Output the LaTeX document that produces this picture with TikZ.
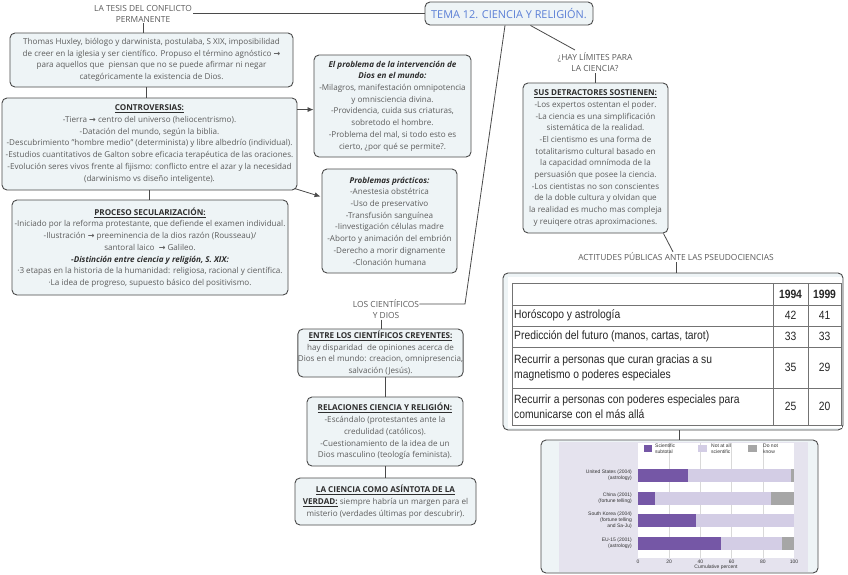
\documentclass[tikz,border=0pt]{standalone}
\usepackage{fontspec}
\setmainfont{Open Sans}
\newfontfamily\symf{DejaVu Sans}
\newfontfamily\tabf[FakeStretch=0.86]{Liberation Sans}
\newfontfamily\chartf{Liberation Sans}
\usetikzlibrary{calc,arrows.meta}
\definecolor{boxfill}{HTML}{EEF4F6}
\definecolor{boxdraw}{HTML}{4A4A4A}
\definecolor{txt}{HTML}{5C5C5C}
\definecolor{hd}{HTML}{2E2E2E}
\definecolor{titleblue}{HTML}{5B7FD6}
\definecolor{sci}{HTML}{7557A6}
\definecolor{notsci}{HTML}{D3CDE5}
\definecolor{dkn}{HTML}{A6A6A6}
\definecolor{chartbg}{HTML}{E5E3EE}
\newcommand{\myarrow}{{\symf\fontsize{8}{6}\selectfont\bfseries →}}
\newcommand{\myhdr}[1]{{\color{hd}\underline{\textbf{#1}}}}
\newcommand{\mybi}[1]{{\color{hd}\textbf{\textit{#1}}}}
\begin{document}
\begin{tikzpicture}[x=1pt,y=-1pt,
  box/.style={draw=boxdraw, line width=0.9pt, fill=boxfill, rounded corners=5pt, align=center, inner sep=0pt, text=txt, font=\fontsize{8.1}{11.7}\selectfont},
  lbl/.style={align=center, inner sep=1pt, text=txt, font=\fontsize{8.4}{11}\selectfont},
  conn/.style={draw=boxdraw, line width=0.8pt},
  arr/.style={conn, -{Latex[length=6pt,width=5pt]}},
  tcell/.style={inner sep=0pt, text=black!85, font=\tabf\fontsize{12}{15}\selectfont, align=left},
  tnum/.style={inner sep=0pt, text=black!85, font=\tabf\fontsize{12}{15}\selectfont},
  clab/.style={inner sep=0pt, text=black!80, font=\chartf\fontsize{5}{6}\selectfont}
]
\fill[white] (0,0) rectangle (848,574);
\useasboundingbox (0,0) rectangle (848,574);

% title
\node[box, minimum width=168pt, minimum height=23pt, text=titleblue, font=\fontsize{10.9}{12}\selectfont] (title) at (509,13.5) {TEMA 12. CIENCIA Y RELIGIÓN.};

% left column
\node[lbl] (tesis) at (143,13.5) {LA TESIS DEL CONFLICTO\\PERMANENTE};
\node[box, minimum width=283pt, minimum height=54pt] (hux) at (151.5,60) {Thomas Huxley, biólogo y darwinista, postulaba, S XIX, imposibilidad\\de creer en la iglesia y ser científico. Propuso el término agnóstico \myarrow\\para aquellos que\ \ piensan que no se puede afirmar ni negar\\categóricamente la existencia de Dios.};
\node[box, minimum width=295pt, minimum height=92pt] (contr) at (149.5,144) {\myhdr{CONTROVERSIAS:}\\-Tierra \myarrow\ centro del universo (heliocentrismo).\\-Datación del mundo, según la biblia.\\-Descubrimiento "hombre medio" (determinista) y libre albedrío (individual).\\-Estudios cuantitativos de Galton sobre eficacia terapéutica de las oraciones.\\-Evolución seres vivos frente al fijismo: conflicto entre el azar y la necesidad\\(darwinismo vs diseño inteligente).};
\node[box, minimum width=276pt, minimum height=95pt] (proc) at (150,247.5) {\myhdr{PROCESO SECULARIZACIÓN:}\\-Iniciado por la reforma protestante, que defiende el examen individual.\\-Ilustración \myarrow\ preeminencia de la dios razón (Rousseau)/\\santoral laico\ \ \myarrow\ Galileo.\\\mybi{-Distinción entre ciencia y religión, S. XIX:}\\·3 etapas en la historia de la humanidad: religiosa, racional y científica.\\·La idea de progreso, supuesto básico del positivismo.};

% middle column
\node[box, minimum width=157pt, minimum height=102pt] (prob) at (392.5,106) {\mybi{El problema de la intervención de}\\\mybi{Dios en el mundo:}\\-Milagros, manifestación omnipotencia\\y omnisciencia divina.\\-Providencia, cuida sus criaturas,\\sobretodo el hombre.\\-Problema del mal, si todo esto es\\cierto, ¿por qué se permite?.};
\node[box, minimum width=135pt, minimum height=104pt] (prac) at (389.5,221) {\mybi{Problemas prácticos:}\\-Anestesia obstétrica\\-Uso de preservativo\\-Transfusión sanguínea\\-Iinvestigación células madre\\-Aborto y animación del embrión\\-Derecho a morir dignamente\\-Clonación humana};
\node[lbl] (cient) at (386,309) {LOS CIENTÍFICOS\\Y DIOS};
\node[box, minimum width=165pt, minimum height=48pt] (entre) at (380.5,353) {\myhdr{ENTRE LOS CIENTÍFICOS CREYENTES:}\\hay disparidad\ \ de opiniones acerca de\\Dios en el mundo: creacion, omnipresencia,\\salvación (Jesús).};
\node[box, minimum width=156pt, minimum height=69pt] (rel) at (385,431.5) {\myhdr{RELACIONES CIENCIA Y RELIGIÓN:}\\-Escándalo (protestantes ante la\\credulidad (católicos).\\-Cuestionamiento de la idea de un\\Dios masculino (teología feminista).};
\node[box, minimum width=181pt, minimum height=47pt] (asin) at (385.5,501.5) {\myhdr{LA CIENCIA COMO ASÍNTOTA DE LA}\\\myhdr{VERDAD:} siempre habría un margen para el\\misterio (verdades últimas por descubrir).};

% right column
\node[lbl] (hay) at (595,62.5) {¿HAY LÍMITES PARA\\LA CIENCIA?};
\node[box, minimum width=145pt, minimum height=150pt] (sus) at (595.5,158) {\myhdr{SUS DETRACTORES SOSTIENEN:}\\-Los expertos ostentan el poder.\\-La ciencia es una simplificación\\sistemática de la realidad.\\-El cientismo es una forma de\\totalitarismo cultural basado en\\la capacidad omnímoda de la\\persuasión que posee la ciencia.\\-Los cientistas no son conscientes\\de la doble cultura y olvidan que\\la realidad es mucho mas compleja\\y reuiqere otras aproximaciones.};
\node[lbl] (act) at (676,257) {ACTITUDES PÚBLICAS ANTE LAS PSEUDOCIENCIAS};

% table
\node[box, minimum width=340pt, minimum height=157pt] (tab) at (673,351.5) {};
\fill[white] (508,277) rectangle (842,428);
\draw[black!55, line width=0.7pt] (512,283) rectangle (841,425);
\foreach \yy in {305,326,347,388} \draw[black!55, line width=0.7pt] (512,\yy) -- (841,\yy);
\foreach \xx in {773,808} \draw[black!55, line width=0.7pt] (\xx,283) -- (\xx,425);
\node[tnum, font=\tabf\bfseries\fontsize{12}{15}\selectfont] (h94) at (790.5,294) {1994};
\node[tnum, font=\tabf\bfseries\fontsize{12}{15}\selectfont] (h99) at (824.5,294) {1999};
\node[tcell, anchor=west] (r1) at (514,315.5) {Horóscopo y astrología};
\node[tcell, anchor=west] (r2) at (514,336.5) {Predicción del futuro (manos, cartas, tarot)};
\node[tcell, anchor=west] (r3) at (514,367.5) {Recurrir a personas que curan gracias a su\\magnetismo o poderes especiales};
\node[tcell, anchor=west] (r4) at (514,406.5) {Recurrir a personas con poderes especiales para\\comunicarse con el más allá};
\node[tnum] (a1) at (790.5,315.5) {42}; \node[tnum] (b1) at (824.5,315.5) {41};
\node[tnum] (a2) at (790.5,336.5) {33}; \node[tnum] (b2) at (824.5,336.5) {33};
\node[tnum] (a3) at (790.5,367.5) {35}; \node[tnum] (b3) at (824.5,367.5) {29};
\node[tnum] (a4) at (790.5,406.5) {25}; \node[tnum] (b4) at (824.5,406.5) {20};

% chart
\node[box, minimum width=277pt, minimum height=133pt] (chart) at (679.5,506.5) {};
\fill[chartbg] (559,441.5) rectangle (808,572);
\fill[white] (638,443) rectangle (794,558);
\foreach \v in {20,40,60,80} \draw[black!15, line width=0.3pt] ({638+1.56*\v},443) -- ({638+1.56*\v},558);
% bars
\fill[sci] (638,468.5) rectangle ({638+1.56*32},481.5);
\fill[notsci] ({638+1.56*32},468.5) rectangle ({638+1.56*98},481.5);
\fill[dkn] ({638+1.56*98},468.5) rectangle (794,481.5);
\fill[sci] (638,491.5) rectangle ({638+1.56*11},504.5);
\fill[notsci] ({638+1.56*11},491.5) rectangle ({638+1.56*85},504.5);
\fill[dkn] ({638+1.56*85},491.5) rectangle (794,504.5);
\fill[sci] (638,514) rectangle ({638+1.56*37},527);
\fill[notsci] ({638+1.56*37},514) rectangle (794,527);
\fill[sci] (638,536.5) rectangle ({638+1.56*53},549.5);
\fill[notsci] ({638+1.56*53},536.5) rectangle ({638+1.56*92},549.5);
\fill[dkn] ({638+1.56*92},536.5) rectangle (794,549.5);
% legend
\fill[sci] (644,445) rectangle (652,452);
\fill[notsci] (698,445) rectangle (707,452);
\fill[dkn] (748,445) rectangle (757,452);
\node[clab, anchor=west, align=left] (lg1) at (655,448.5) {Scientific\\subtotal};
\node[clab, anchor=west, align=left] (lg2) at (711,448.5) {Not at all\\scientific};
\node[clab, anchor=west, align=left] (lg3) at (763,448.5) {Do not\\know};
% country labels
\node[clab, anchor=east, align=right] (c1) at (632,475) {United States (2004)\\(astrology)};
\node[clab, anchor=east, align=right] (c2) at (632,498) {China (2001)\\(fortune telling)};
\node[clab, anchor=east, align=right] (c3) at (632,520.5) {South Korea (2004)\\(fortune telling\\and Sa-Ju)};
\node[clab, anchor=east, align=right] (c4) at (632,543) {EU-15 (2001)\\(astrology)};
\foreach \v in {0,20,40,60,80,100} \node[clab] at ({638+1.56*\v},562) {\v};
\node[clab] (cum) at (716,567.5) {Cumulative percent};

% connectors
\draw[conn] (tesis.east) -- (tesis.east -| title.west);
\draw[conn] (tesis.south) -- (tesis.south |- hux.north);
\draw[conn] ($(hux.south)+(-5,0)$) -- ($(hux.south |- contr.north)+(-5,0)$);
\draw[conn] (contr.south) -- (contr.south |- proc.north);
\draw[arr] ($(contr.north east)+(0,12)$) -- ($(contr.north east -| prob.west)+(0,12)$);
\draw[arr] ($(contr.south east)+(-3,-2)$) -- ($(prac.north west)+(-1,28)$);
\coordinate (cbend) at (465,304);
\draw[conn] ($(cient.east |- cbend)+(-1,0)$) -- (cbend) -- ($(title.south)+(-4,0)$);
\draw[conn] ($(cient.south)+(-5,0)$) -- ($(cient.south |- entre.north)+(-5,0)$);
\draw[conn] (entre.south -| rel.south) -- (rel.north);
\draw[conn] (rel.south) -- (rel.south |- asin.north);
\coordinate (hayend) at (575,50);
\draw[conn] ($(title.south east)+(-63,0)$) -- (hayend);
\draw[conn] (hay.south) -- (hay.south |- sus.north);
\draw[conn] ($(sus.south east)+(-5,0)$) -- ($(act.north)+(-3,0)$);
\draw[conn] (act.south) -- (act.south |- tab.north);
\draw[conn] (chart.north |- tab.south) -- (chart.north);
\end{tikzpicture}
\end{document}
